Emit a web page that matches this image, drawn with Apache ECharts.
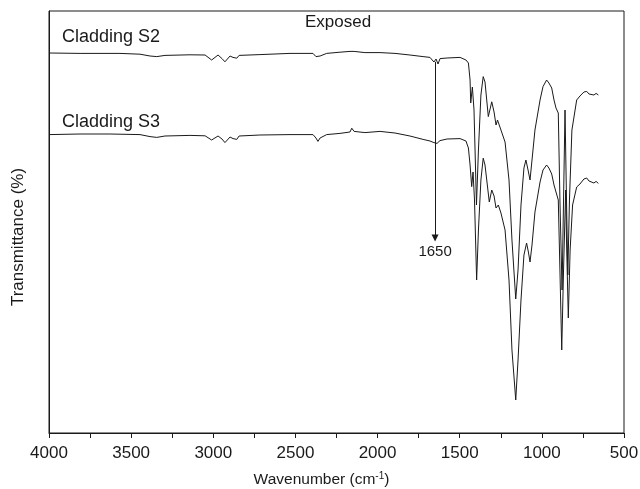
<!DOCTYPE html>
<html>
<head>
<meta charset="utf-8">
<script src="https://cdn.jsdelivr.net/npm/echarts@6/dist/echarts.min.js"></script>
<style>
  html, body { margin: 0; padding: 0; background: #fff; }
  #chart { width: 640px; height: 489px; }
</style>
</head>
<body>
<div id="chart"></div>
<script>
// FTIR spectra of exposed cladding samples (offset traces)
const xTicks = [4000, 3500, 3000, 2500, 2000, 1500, 1000, 500];

const s2Wavenumber = [
  4000, 3811, 3568, 3446, 3385, 3344, 3294, 3142, 3050, 3010, 2971, 2947, 2929, 2898, 2880, 2857, 2843,
  2716, 2533, 2393, 2375, 2363, 2350, 2338, 2310, 2229, 2168, 2157, 2143, 2077, 1985, 1894, 1803, 1723,
  1681, 1657, 1644, 1632, 1620, 1577, 1498, 1462, 1447, 1437, 1433, 1423, 1413, 1398, 1386, 1371, 1357,
  1346, 1326, 1305, 1291, 1279, 1270, 1249, 1224, 1200, 1182, 1159, 1145, 1127, 1109, 1097, 1084, 1072,
  1060, 1042, 1011, 993, 971, 957, 940, 926, 914, 900, 890, 877, 868, 859, 852, 842, 832, 817, 788, 768,
  744, 727, 713, 701, 683, 670, 656
];
const s2Transmittance = [
  95, 94.9, 94.9, 94.7, 94.25, 94.1, 94.4, 94.55, 94.5, 93.25, 94.5, 93.6, 92.8, 94.25, 93.9, 93.7, 94.4,
  94.6, 94.9, 94.9, 94.1, 93.75, 94.25, 94, 94.9, 95.2, 95.4, 95.9, 95.4, 95.1, 95.1, 94.9, 94.5, 94.1,
  93.9, 92.75, 93.5, 92.25, 93.6, 93.75, 93.9, 93.25, 92.5, 88.25, 82.5, 86.5, 80.75, 57, 70.75, 84.5, 89.1,
  87.75, 79.1, 82.8, 80.25, 77, 78.25, 75.75, 72.75, 63.25, 48.25, 33.5, 40.75, 57, 66.25, 68.25, 65.75, 63.25,
  68.25, 75.75, 83.25, 86.6, 88.25, 87.5, 86.25, 83.25, 81.25, 80, 58.25, 35.75, 58.25, 80.75, 63.25, 39.5, 58.25, 75.75, 83.25, 84.25,
  85.25, 85.4, 84.75, 85.1, 84.5, 84.9, 84.5
];

const s3Wavenumber = [
  4000, 3811, 3629, 3446, 3385, 3344, 3294, 3142, 3050, 3010, 2971, 2947, 2929, 2898, 2880, 2857, 2843,
  2716, 2533, 2393, 2375, 2363, 2350, 2338, 2310, 2229, 2168, 2157, 2143, 2077, 1985, 1894, 1803, 1723,
  1681, 1657, 1638, 1620, 1577, 1498, 1462, 1447, 1437, 1427, 1419, 1410, 1397, 1386, 1371, 1357,
  1346, 1320, 1305, 1291, 1279, 1265, 1249, 1224, 1200, 1182, 1159, 1145, 1127, 1109, 1093, 1082, 1072,
  1060, 1042, 1011, 993, 971, 957, 940, 926, 914, 900, 890, 879, 868, 855, 850, 839, 828, 813, 788, 768,
  744, 727, 713, 701, 683, 670, 656
];
const s3Transmittance = [
  74.6, 74.75, 74.75, 74.6, 74.1, 73.9, 74.25, 74.4, 74.3, 73.25, 74.25, 73.5, 72.6, 74, 73.6, 73.4, 74.25,
  74.5, 74.6, 74.6, 73.75, 72.9, 73.75, 73.5, 74.6, 74.9, 75.25, 76.2, 75.4, 75.1, 75.4, 75, 74.25, 73.4,
  73, 72.6, 72.4, 73.1, 73.5, 73.6, 73, 71.25, 67, 61.6, 65.25, 58.25, 38.25, 50.75, 63.25, 68.7,
  67, 57.75, 60.75, 59.25, 56.25, 57, 55, 50.75, 38.25, 20.75, 8.25, 18.25, 33.25, 44.5, 47.5, 45.25, 42.75,
  47, 55.25, 62.75, 65.75, 67, 66.25, 64.75, 62, 60.25, 58.25, 40.75, 20.75, 40.75, 60.75, 48.25, 28.75, 45.75, 57, 61.5, 62.25,
  63.5, 63.75, 63, 63.25, 62.5, 62.9, 62.4
];

// 1650 cm-1 band marker: arrow from the S2 trace down to its label
const bandWavenumber = 1650;
const bandArrowFrom = 92.8;
const bandArrowTo = 48.75;

const pairs = (xs, ys) => xs.map((x, i) => [x, ys[i]]);

const FONT = '"Liberation Sans", Arial, Helvetica, sans-serif';
const INK = '#1a1a1a';

const chart = echarts.init(document.getElementById('chart'), null, { renderer: 'canvas' });

chart.setOption({
  animation: false,
  backgroundColor: '#ffffff',
  grid: {
    left: 49, right: 16, top: 11, bottom: 56,
    outerBoundsMode: 'none',
    containLabel: false,
    show: true, borderColor: INK, borderWidth: 1, backgroundColor: 'transparent'
  },
  xAxis: {
    type: 'value',
    inverse: true,
    min: 500, max: 4000, interval: 500,
    name: 'Wavenumber (cm{sup|-1})',
    nameLocation: 'middle',
    nameGap: 38,
    nameTextStyle: {
      fontFamily: FONT, fontSize: 15.5, color: INK,
      padding: [0, 30, 0, 0],
      rich: { sup: { fontFamily: FONT, fontSize: 10, color: INK, verticalAlign: 'top', padding: [0, 0, 8, 0] } }
    },
    axisLine: { show: true, lineStyle: { color: INK, width: 1 } },
    axisTick: { show: true, inside: false, length: 5, lineStyle: { color: INK } },
    minorTick: { show: true, splitNumber: 2, length: 5, lineStyle: { color: INK } },
    axisLabel: {
      fontFamily: FONT, fontSize: 17, color: INK, margin: 12,
      customValues: xTicks,
      formatter: v => String(v)
    },
    splitLine: { show: false },
    minorSplitLine: { show: false }
  },
  yAxis: {
    type: 'value',
    min: 0, max: 105.5,
    name: 'Transmittance (%)',
    nameLocation: 'middle',
    nameGap: 22,
    nameRotate: 90,
    nameTextStyle: { fontFamily: FONT, fontSize: 17, color: INK, padding: [0, 30, 0, 0] },
    axisLine: { show: true, lineStyle: { color: INK } },
    axisTick: { show: false },
    axisLabel: { show: false },
    splitLine: { show: false }
  },
  series: [
    {
      name: 'Cladding S2',
      type: 'line',
      data: pairs(s2Wavenumber, s2Transmittance),
      showSymbol: false,
      lineStyle: { color: INK, width: 1 },
      silent: true,
      markLine: {
        silent: true,
        symbol: ['none', 'triangle'],
        symbolSize: 7,
        lineStyle: { color: INK, width: 1, type: 'solid' },
        label: {
          show: true, position: 'end', distance: 6,
          formatter: String(bandWavenumber),
          fontFamily: FONT, fontSize: 15, color: INK
        },
        data: [[
          { coord: [bandWavenumber, bandArrowFrom] },
          { coord: [bandWavenumber, bandArrowTo] }
        ]]
      }
    },
    {
      name: 'Cladding S3',
      type: 'line',
      data: pairs(s3Wavenumber, s3Transmittance),
      showSymbol: false,
      lineStyle: { color: INK, width: 1 },
      silent: true
    }
  ],
  graphic: [
    { type: 'text', left: 62, top: 28, style: { text: 'Cladding S2', font: '18px ' + FONT, fill: INK } },
    { type: 'text', left: 62, top: 113, style: { text: 'Cladding S3', font: '18px ' + FONT, fill: INK } },
    { type: 'text', left: 305, top: 14, style: { text: 'Exposed', font: '17px ' + FONT, fill: INK } }
  ]
});
</script>
</body>
</html>
